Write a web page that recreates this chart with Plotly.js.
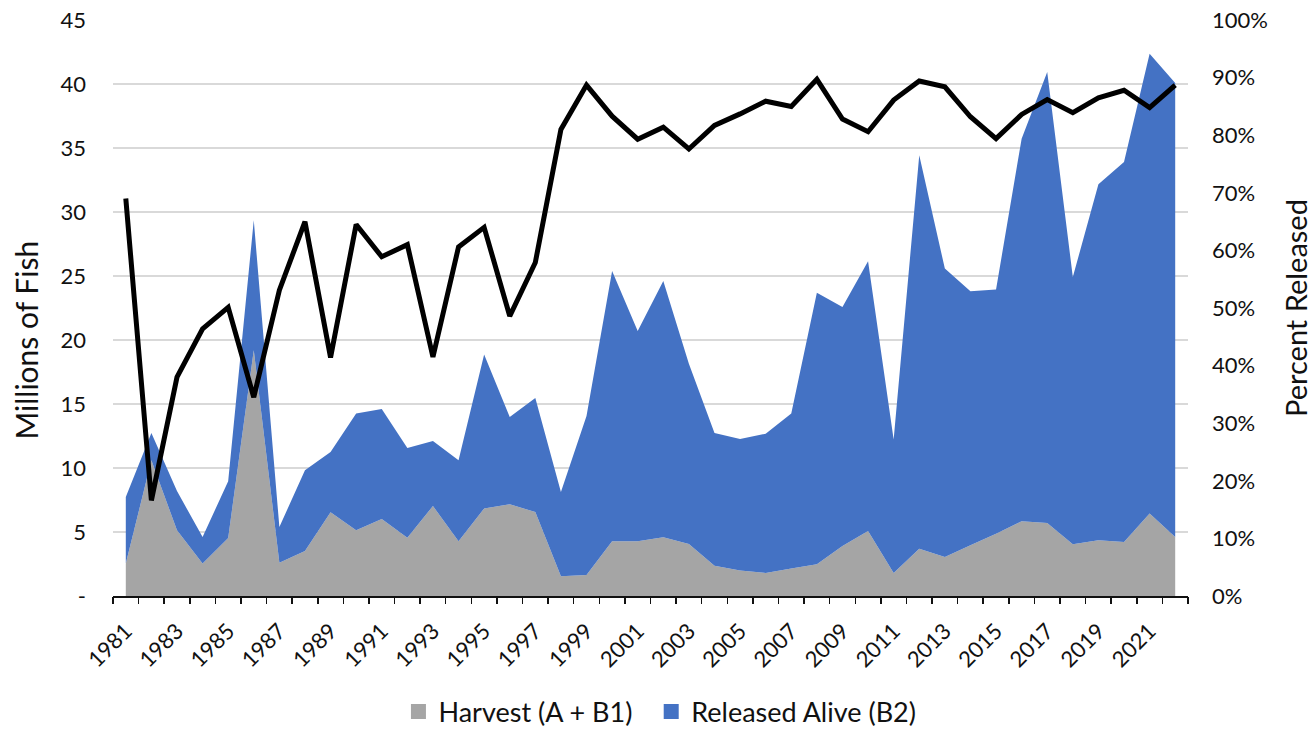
<!DOCTYPE html>
<html>
<head>
<meta charset="utf-8">
<script src="https://cdn.plot.ly/plotly-3.0.1.min.js"></script>
<style>html,body{margin:0;padding:0;background:#fff;}#chart{width:1315px;height:731px;}</style>
</head>
<body>
<div id="chart"></div>
<script>
const years = [1981,1982,1983,1984,1985,1986,1987,1988,1989,1990,1991,1992,1993,1994,1995,1996,1997,1998,1999,2000,2001,2002,2003,2004,2005,2006,2007,2008,2009,2010,2011,2012,2013,2014,2015,2016,2017,2018,2019,2020,2021,2022];
const harvest = [2.53,10.6,5.13,2.53,4.53,19.2,2.6,3.52,6.54,5.13,6.02,4.56,7.03,4.27,6.83,7.16,6.56,1.54,1.64,4.27,4.27,4.59,4.06,2.37,2.0,1.8,2.14,2.48,3.9,5.08,1.8,3.7,3.05,3.96,4.87,5.84,5.71,4.04,4.35,4.22,6.44,4.61];
const released = [5.20,2.13,3.07,2.08,4.43,10.15,2.79,6.30,4.71,9.12,8.59,7.00,5.08,6.33,12.03,6.82,8.91,6.59,12.42,21.12,16.43,20.02,14.09,10.37,10.27,10.88,12.11,21.22,18.68,21.07,10.42,30.73,22.53,19.84,19.07,29.89,35.23,20.88,27.81,29.69,35.93,35.47];
const pctReleased = [69.0,16.6,38.0,46.4,50.1,34.5,53.1,65.0,41.4,64.5,58.9,61.0,41.5,60.6,64.0,48.6,57.9,81.0,88.7,83.3,79.3,81.4,77.6,81.7,83.7,85.9,85.0,89.7,82.8,80.6,86.1,89.4,88.4,83.2,79.4,83.6,86.2,83.9,86.5,87.8,84.8,88.7];
const leftTicks = [0,5,10,15,20,25,30,35,40,45];
const leftTickText = ['-','5','10','15','20','25','30','35','40','45'];
const xLabelYears = years.filter(y => y % 2 === 1);
const seriesNames = ['Harvest (A + B1)', 'Released Alive (B2)'];
const axisTitles = {left:'Millions of Fish', right:'Percent Released'};
const colors = {harvest:'#A5A5A5', released:'#4472C4', line:'#000000', grid:'#D9D9D9', text:'#111111'};

const boundaries = [years[0]-0.5].concat(years.map(y => y+0.5));
const xRange = [boundaries[0], boundaries[boundaries.length-1]];
const FONT = 'Lato, "Open Sans", sans-serif';
const TICK = 22;
const PAD = '\u00a0\u00a0';

const traces = [
  {x: years, y: harvest, type:'scatter', mode:'none', stackgroup:'one', fillcolor:colors.harvest, name:seriesNames[0], showlegend:false, hoverinfo:'skip'},
  {x: years, y: released, type:'scatter', mode:'none', stackgroup:'one', fillcolor:colors.released, name:seriesNames[1], showlegend:false, hoverinfo:'skip'},
  {x: years, y: pctReleased, type:'scatter', mode:'lines', yaxis:'y2', line:{color:colors.line, width:5}, showlegend:false, hoverinfo:'skip'},
  {x:[null], y:[null], xaxis:'x2', type:'scatter', mode:'markers', marker:{symbol:'square', size:15, color:colors.harvest}, name:seriesNames[0] + PAD},
  {x:[null], y:[null], xaxis:'x2', type:'scatter', mode:'markers', marker:{symbol:'square', size:15, color:colors.released}, name:seriesNames[1]}
];

const layout = {
  width:1315, height:731,
  margin:{l:113, r:127, t:20, b:135},
  paper_bgcolor:'#fff', plot_bgcolor:'#fff',
  font:{family:FONT, color:colors.text, size:TICK},
  showlegend:true,
  legend:{orientation:'h', traceorder:'normal', xref:'container', yref:'container', x:0.303, xanchor:'left', y:0.026, yanchor:'middle', font:{size:27, family:FONT, color:colors.text}, itemwidth:30, tracegroupgap:0, bgcolor:'rgba(0,0,0,0)'},
  xaxis:{
    type:'linear', range:xRange,
    tickmode:'array', tickvals:xLabelYears, ticktext:xLabelYears.map(String),
    tickangle:-45, ticks:'', showgrid:false, zeroline:false,
    showline:true, linecolor:colors.text, linewidth:1.5, ticklabelstandoff:12,
    tickfont:{size:TICK, family:FONT, color:colors.text}
  },
  xaxis2:{
    overlaying:'x', anchor:'y', side:'bottom', type:'linear', range:xRange,
    tickmode:'array', tickvals:boundaries, ticks:'outside', ticklen:7, tickwidth:1.5, tickcolor:colors.text,
    showticklabels:false, showgrid:false, zeroline:false, showline:false
  },
  yaxis:{
    range:[0,45], tickmode:'array', tickvals:leftTicks, ticktext:leftTickText,
    showgrid:true, gridcolor:colors.grid, gridwidth:1.5, zeroline:false,
    showline:false, ticks:'', ticklabelstandoff:26,
    tickfont:{size:TICK, family:FONT, color:colors.text}
  },
  yaxis2:{
    overlaying:'y', side:'right', range:[0,100], dtick:10, tick0:0, ticksuffix:'%',
    showgrid:false, zeroline:false, showline:false, ticks:'', ticklabelstandoff:23,
    tickfont:{size:TICK, family:FONT, color:colors.text},
    title:{text:axisTitles.right, font:{size:29, family:FONT, color:colors.text}, standoff:19}
  },
  annotations:[
    {text:axisTitles.left, xref:'paper', yref:'paper', x:-0.081, y:0.445, xanchor:'center', yanchor:'middle', textangle:-90, showarrow:false, font:{size:30, family:FONT, color:colors.text}}
  ]
};

Plotly.newPlot('chart', traces, layout, {staticPlot:true, displayModeBar:false});
</script>
</body>
</html>
